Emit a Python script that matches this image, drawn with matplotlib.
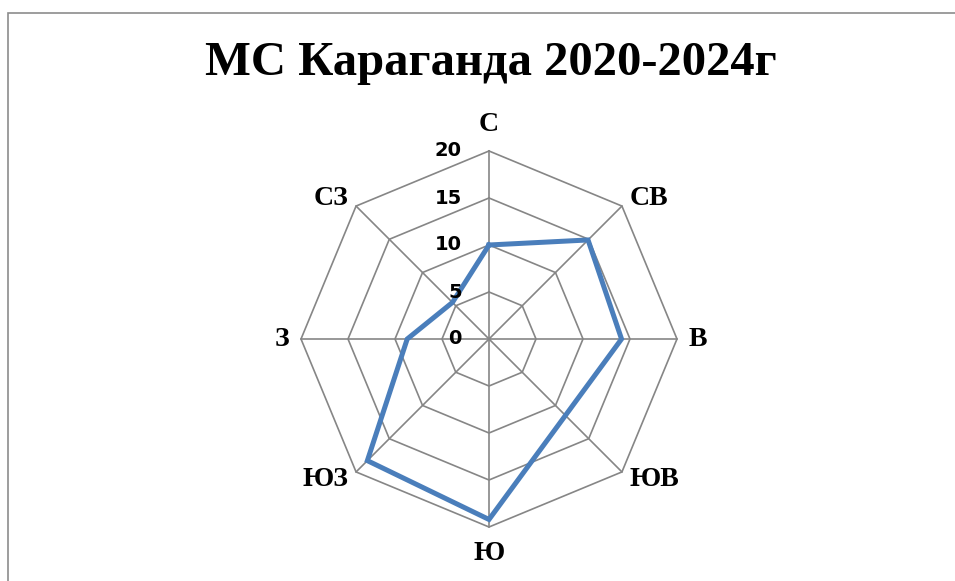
import numpy as np
import matplotlib
matplotlib.use("Agg")
import matplotlib.pyplot as plt
from matplotlib.patches import Rectangle

directions = ["С", "СВ", "В", "ЮВ", "Ю", "ЮЗ", "З", "СЗ"]
frequency = [10, 14.9, 14.1, 11.5, 19.2, 18.3, 8.7, 5.5]
ring_values = [0, 5, 10, 15, 20]
title = "МС Караганда 2020-2024г"

GRID = "#868686"
LINE = "#4A7EBB"

fig = plt.figure(figsize=(9.55, 5.81), dpi=100)

# chart frame (runs off the right and bottom edges)
fig.patches.append(Rectangle((8 / 955, -0.05), 1.2, 1 - 13 / 581 + 0.05,
                             transform=fig.transFigure, fill=False,
                             edgecolor="#8c8c8c", linewidth=1.2))

# axes positioned so that the centre and radius match the reference
cx, cy, R = 489, 339, 188
lim = 22.0
size = R * lim / 20
ax = fig.add_axes([(cx - size) / 955, (581 - cy - size) / 581,
                   2 * size / 955, 2 * size / 581])
ax.set_xlim(-lim, lim)
ax.set_ylim(-lim, lim)
ax.set_aspect("equal")
ax.axis("off")

n = len(directions)
angles = np.arange(n) * 2 * np.pi / n
ux, uy = np.sin(angles), np.cos(angles)

# octagonal rings and spokes
for r in ring_values[1:]:
    ax.plot(np.append(ux, ux[0]) * r, np.append(uy, uy[0]) * r,
            color=GRID, linewidth=1.2, zorder=1)
for x, y in zip(ux, uy):
    ax.plot([0, x * ring_values[-1]], [0, y * ring_values[-1]],
            color=GRID, linewidth=1.2, zorder=1)

# data series
vals = np.array(frequency)
ax.plot(np.append(ux * vals, ux[0] * vals[0]),
        np.append(uy * vals, uy[0] * vals[0]),
        color=LINE, linewidth=3.6, zorder=3, solid_joinstyle="miter")

# radial tick labels
for r in ring_values:
    ax.text(-2.9, r, str(r), ha="right", va="center", fontsize=14,
            fontweight="bold", family="DejaVu Sans", zorder=4)

# direction labels
for name, x, y in zip(directions, ux, uy):
    ha = "left" if x > 0.1 else ("right" if x < -0.1 else "center")
    va = "bottom" if y > 0.9 else ("top" if y < -0.9 else "center")
    rr = 21.5 if abs(x) < 0.1 else 21.2
    ax.text(x * rr, y * rr, name, ha=ha, va=va, fontsize=20,
            fontweight="bold", family="Liberation Serif")

fig.text(491 / 955, 1 - 63 / 581, title, ha="center", va="center",
         fontsize=35, fontweight="bold", family="Liberation Serif")

fig.savefig("out.png", dpi=100)
